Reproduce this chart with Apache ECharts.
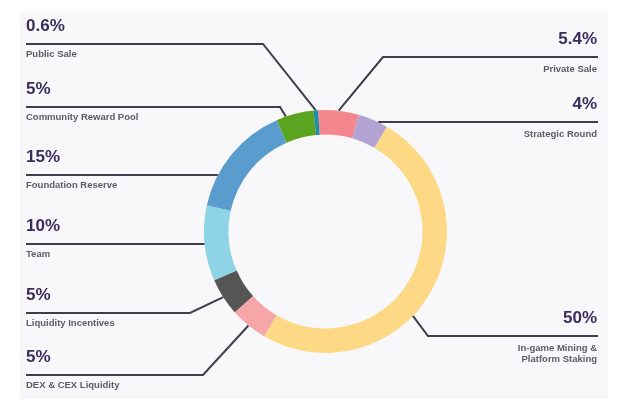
<!DOCTYPE html>
<html>
<head>
<meta charset="utf-8">
<script src="https://cdn.jsdelivr.net/npm/echarts@6/dist/echarts.min.js"></script>
<style>
html,body{margin:0;padding:0;background:#ffffff;}
#chart{width:640px;height:411px;}
</style>
</head>
<body>
<div id="chart"></div>
<script>
// ---- data ----
const categories = ['Private Sale', 'Strategic Round', 'In-game Mining &\nPlatform Staking', 'DEX & CEX Liquidity',
  'Liquidity Incentives', 'Team', 'Foundation Reserve', 'Community Reward Pool', 'Public Sale'];
const shares = [5.4, 4, 50, 5, 5, 10, 15, 5, 0.6];

// ---- style / layout ----
const sliceColors = ['#F4878D', '#B3A3D3', '#FDD985', '#F6A6A8', '#555556', '#8FD4E6', '#5B9CCF', '#5AA51F', '#1E8EA6'];
const CX = 325.5, CY = 231.5, R_IN = 97, R_OUT = 121.5;
const START_ANGLE = 93.5;
const labelSide = ['r', 'r', 'r', 'l', 'l', 'l', 'l', 'l', 'l'];
const labelLineY = [57, 122, 336, 375, 313, 244, 175, 107, 44];
const labelBendX = [383, null, 428, 203, 190, null, null, 280, 263];
const labelAnchorAngle = [null, null, 134, null, null, null, null, 341, null];
const LEFT_X = 26, RIGHT_X = 598;
const FONT = '"Liberation Sans", Arial, Helvetica, sans-serif';

const total = shares.reduce((a, b) => a + b, 0);
function midAngle(i) {
  let cum = 0;
  for (let k = 0; k < i; k++) cum += shares[k];
  return (90 - START_ANGLE) + (cum + shares[i] / 2) / total * 360;
}
function ringPoint(deg) {
  const a = deg * Math.PI / 180;
  return [CX + R_OUT * Math.sin(a), CY - R_OUT * Math.cos(a)];
}

const chart = echarts.init(document.getElementById('chart'), null, {renderer: 'canvas'});
chart.setOption({
  animation: false,
  backgroundColor: '#ffffff',
  graphic: [{
    type: 'rect', z: -10, silent: true,
    shape: {x: 20, y: 11, width: 588, height: 388},
    style: {fill: '#F8F8FA'}
  }],
  series: [{
    type: 'pie',
    center: [CX, CY],
    radius: [R_IN, R_OUT],
    startAngle: START_ANGLE,
    clockwise: true,
    avoidLabelOverlap: false,
    silent: true,
    data: categories.map((c, i) => ({name: c, value: shares[i], itemStyle: {color: sliceColors[i]}})),
    label: {
      show: true,
      position: 'outside',
      fontFamily: FONT,
      formatter: function (p) {
        const side = labelSide[p.dataIndex];
        const pct = '{' + (side === 'l' ? 'pl' : 'pr') + '|' + p.value + '%}';
        const names = p.name.split('\n').map(s => '{n|' + s + '}').join('\n');
        return pct + '\n' + names;
      },
      rich: {
        pl: {fontFamily: FONT, fontSize: 17, fontWeight: 'bold', color: '#3B2C5E', lineHeight: 44},
        pr: {fontFamily: FONT, fontSize: 17, fontWeight: 'bold', color: '#3B2C5E', lineHeight: 48},
        n: {fontFamily: FONT, fontSize: 9.5, fontWeight: 'bold', color: '#5B5B66', lineHeight: 11}
      }
    },
    labelLine: {
      show: true,
      length: 10,
      length2: 10,
      lineStyle: {color: '#3E3E4C', width: 2}
    },
    labelLayout: function (p) {
      const i = p.dataIndex;
      const side = labelSide[i];
      const ly = labelLineY[i];
      let anchor, bend;
      if (labelBendX[i] == null) {
        const dx = Math.sqrt(Math.max(0, R_OUT * R_OUT - (ly - CY) * (ly - CY)));
        anchor = [side === 'l' ? CX - dx : CX + dx, ly];
        bend = anchor.slice();
      } else {
        anchor = ringPoint(labelAnchorAngle[i] != null ? labelAnchorAngle[i] : midAngle(i));
        bend = [labelBendX[i], ly];
      }
      const end = [side === 'l' ? LEFT_X : RIGHT_X, ly];
      return {
        x: side === 'l' ? LEFT_X : RIGHT_X - 1,
        y: ly - (side === 'l' ? 39.5 : 41.5),
        align: side === 'l' ? 'left' : 'right',
        verticalAlign: 'top',
        labelLinePoints: [anchor, bend, end]
      };
    }
  }]
});
</script>
</body>
</html>
